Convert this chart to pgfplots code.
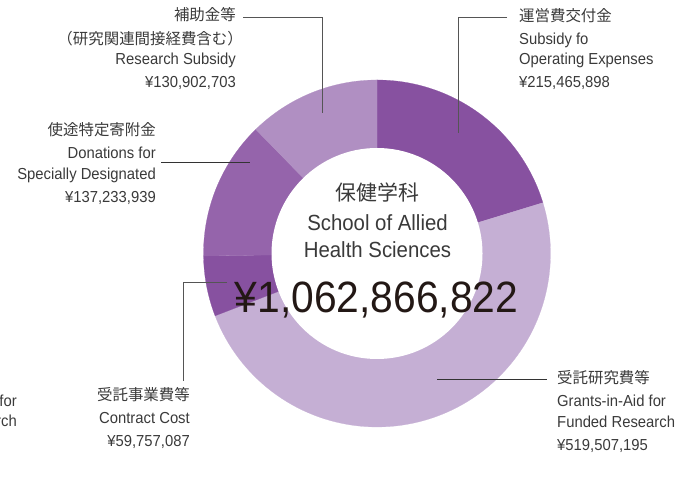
\documentclass[border=0pt]{standalone}
\usepackage{pgfplots}
\pgfplotsset{compat=1.18}
\usepackage{pgfplotstable}
\usepackage{fontspec}
\setmainfont{Liberation Sans}[FakeStretch=0.93]
\newfontfamily\jp{Noto Sans CJK JP}

\definecolor{cOpe}{HTML}{8751A0}
\definecolor{cGra}{HTML}{C5AFD4}
\definecolor{cCon}{HTML}{8751A0}
\definecolor{cDon}{HTML}{9564AB}
\definecolor{cRes}{HTML}{B08FC2}
\definecolor{txt}{HTML}{3A3A3A}
\definecolor{big}{HTML}{231815}
\definecolor{lead}{HTML}{555555}

% million yen, clockwise from 12 o'clock
\pgfplotstableread{
item       value       color
Operating  215.465898  cOpe
Grants     519.507195  cGra
Contract   59.757087   cCon
Donations  137.233939  cDon
Research   130.902703  cRes
}\budget

\newcommand\lab[1]{\fontsize{16}{20}\selectfont #1}
\newcommand\labjp[1]{\fontsize{15.5}{20}\selectfont\jp #1}

\begin{document}
\begin{tikzpicture}[x=1bp,y=1bp]
\path[use as bounding box] (0,0) rectangle (678,477);

\begin{axis}[
    at={(377bp,223.5bp)}, anchor=origin,
    x=173.5bp, y=173.5bp,
    xmin=-1, xmax=1, ymin=-1, ymax=1,
    hide axis, clip=false
]
\pgfplotstablegetrowsof{\budget}
\pgfmathtruncatemacro\N{\pgfplotsretval-1}
\def\total{0}
\pgfplotsforeachungrouped \i in {0,...,\N}{%
    \pgfplotstablegetelem{\i}{value}\of\budget
    \pgfmathsetmacro\total{\total+\pgfplotsretval}%
}
\def\cum{0}
\pgfplotsforeachungrouped \i in {0,...,\N}{%
    \pgfplotstablegetelem{\i}{value}\of\budget
    \let\v\pgfplotsretval
    \pgfplotstablegetelem{\i}{color}\of\budget
    \let\col\pgfplotsretval
    \pgfmathsetmacro\aE{90-(\cum/\total)*360}%
    \pgfmathsetmacro\cum{\cum+\v}%
    \pgfmathsetmacro\aS{90-(\cum/\total)*360}%
    \edef\doplot{\noexpand\addplot[fill=\col, draw=\col, line width=0.2pt,
        domain=\aS:\aE, samples=90] ({cos(x)},{sin(x)}) -- (axis cs:0,0) -- cycle;}%
    \doplot
}
\fill[white] (axis cs:0,0) circle[radius=105.5bp];
\end{axis}

% leader lines
\draw[lead, line width=0.75bp] (243,460) -- (322,460) -- (322,364);
\draw[black!80, line width=0.75bp] (161,315) -- (250,315);
\draw[lead, line width=0.75bp] (507,460) -- (458,460) -- (458,344);
\draw[black!80, line width=0.75bp] (437,98) -- (547,98);
\draw[lead, line width=0.75bp] (227,195) -- (183,195) -- (183,96);

\begin{scope}[every node/.style={inner sep=0pt, text=txt}]
% research subsidy
\node[anchor=base east] at (236,456) {\labjp{補助金等}};
\node[anchor=base east] at (243,432) {\labjp{（研究関連間接経費含む）}};
\node[anchor=base east] at (236,412) {\lab{Research Subsidy}};
\node[anchor=base east] at (236,389) {\lab{¥130,902,703}};
% donations
\node[anchor=base east] at (156,341) {\labjp{使途特定寄附金}};
\node[anchor=base east] at (156,318) {\lab{Donations for}};
\node[anchor=base east] at (156,297) {\lab{Specially Designated}};
\node[anchor=base east] at (156,274) {\lab{¥137,233,939}};
% operating
\node[anchor=base west] at (519,455) {\labjp{運営費交付金}};
\node[anchor=base west] at (519,432) {\lab{Subsidy fo}};
\node[anchor=base west] at (519,412) {\lab{Operating Expenses}};
\node[anchor=base west] at (519,389) {\lab{¥215,465,898}};
% grants
\node[anchor=base west] at (557,93) {\labjp{受託研究費等}};
\node[anchor=base west] at (557,70) {\lab{Grants-in-Aid for}};
\node[anchor=base west] at (557,49) {\lab{Funded Research}};
\node[anchor=base west] at (557,26) {\lab{¥519,507,195}};
% contract
\node[anchor=base east] at (190,76) {\labjp{受託事業費等}};
\node[anchor=base east] at (190,53) {\lab{Contract Cost}};
\node[anchor=base east] at (190,30) {\lab{¥59,757,087}};
% cut-off neighbour label
\node[anchor=base east] at (17,70) {\lab{Grants-in-Aid for}};
\node[anchor=base east] at (17,50) {\lab{Funded Research}};
% centre
\node[anchor=base] at (377.5,276) {\fontsize{21}{24}\selectfont\jp 保健学科};
\node[anchor=base] at (377.5,246.5) {\fontsize{22}{24}\selectfont School of Allied};
\node[anchor=base] at (377.5,219.5) {\fontsize{22}{24}\selectfont Health Sciences};
\node[anchor=base, text=big] at (376.5,164) {\fontsize{44}{48}\selectfont ¥1,062,866,822};
\end{scope}
\end{tikzpicture}
\end{document}
